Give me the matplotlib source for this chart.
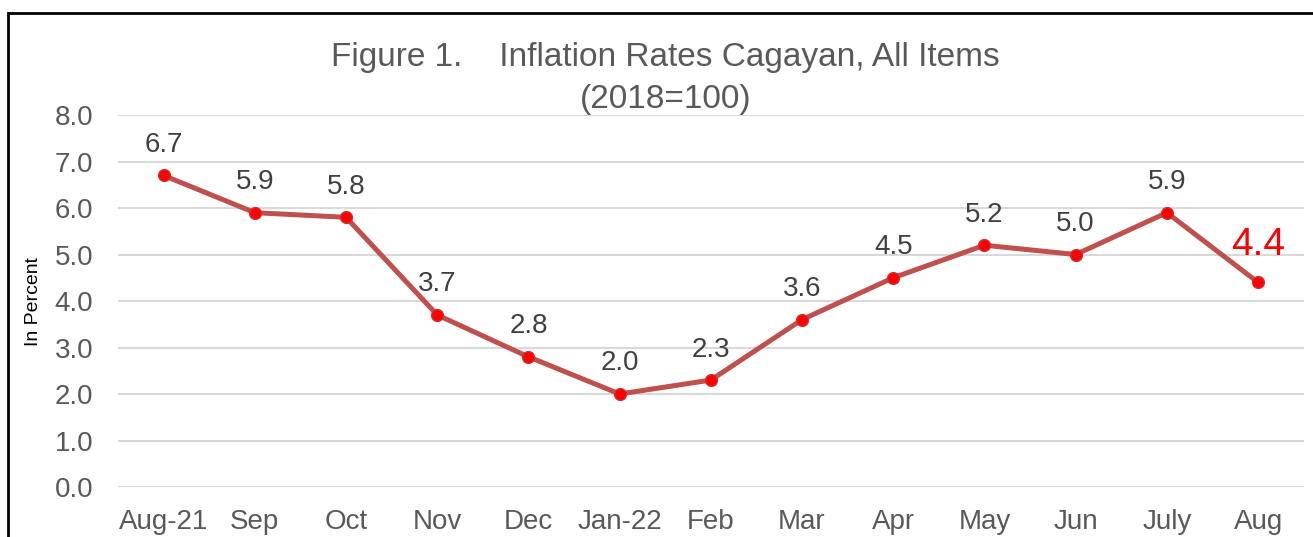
import matplotlib
matplotlib.use("Agg")
import matplotlib.pyplot as plt
from matplotlib.patches import Rectangle

months = ["Aug-21", "Sep", "Oct", "Nov", "Dec", "Jan-22", "Feb", "Mar", "Apr", "May", "Jun", "July", "Aug"]
rates = [6.7, 5.9, 5.8, 3.7, 2.8, 2.0, 2.3, 3.6, 4.5, 5.2, 5.0, 5.9, 4.4]
yticks = [0.0, 1.0, 2.0, 3.0, 4.0, 5.0, 6.0, 7.0, 8.0]

plt.rcParams["font.family"] = ["Liberation Sans", "DejaVu Sans"]

fig = plt.figure(figsize=(13.13, 5.37), dpi=100)
ax = fig.add_axes([0.0899, 0.0931, 0.903, 0.6927])

x = list(range(len(months)))
ax.plot(x, rates, color="#C0504D", linewidth=3.6, marker="o", markersize=8.5,
        markerfacecolor="#FF0000", markeredgecolor="#D03030", markeredgewidth=1, zorder=3)

for i, v in enumerate(rates):
    if i == len(rates) - 1:
        ax.annotate("%.1f" % v, (i, v), xytext=(0, 27), textcoords="offset points",
                    ha="center", va="center", fontsize=28, color="#FF0000")
    else:
        ax.annotate("%.1f" % v, (i, v), xytext=(0, 22), textcoords="offset points",
                    ha="center", va="center", fontsize=20, color="#404040")

ax.set_xlim(-0.5, len(months) - 0.5)
ax.set_ylim(0, 8)
ax.set_xticks(x)
ax.set_xticklabels(months)
ax.set_yticks(yticks)
ax.set_yticklabels(["%.1f" % t for t in yticks])
ax.tick_params(axis="both", length=0, labelsize=20, labelcolor="#595959")
ax.tick_params(axis="x", pad=16)
ax.tick_params(axis="y", pad=18)
ax.grid(axis="y", color="#D9D9D9", linewidth=1.5)
ax.set_axisbelow(True)
for s in ax.spines.values():
    s.set_visible(False)

ax.set_ylabel("In Percent", fontsize=14, color="black")
ax.yaxis.set_label_coords(-0.064, 0.5)

fig.text(0.507, 0.893, "Figure 1.    Inflation Rates Cagayan, All Items", ha="center", va="center",
         fontsize=24, color="#595959")
fig.text(0.507, 0.815, "(2018=100)", ha="center", va="center", fontsize=24, color="#595959")

fig.patches.append(Rectangle((8 / 1313, -0.2), 2, 1.2 - 13 / 537, transform=fig.transFigure,
                             fill=False, edgecolor="black", linewidth=2))

fig.savefig("out.png", dpi=100)
